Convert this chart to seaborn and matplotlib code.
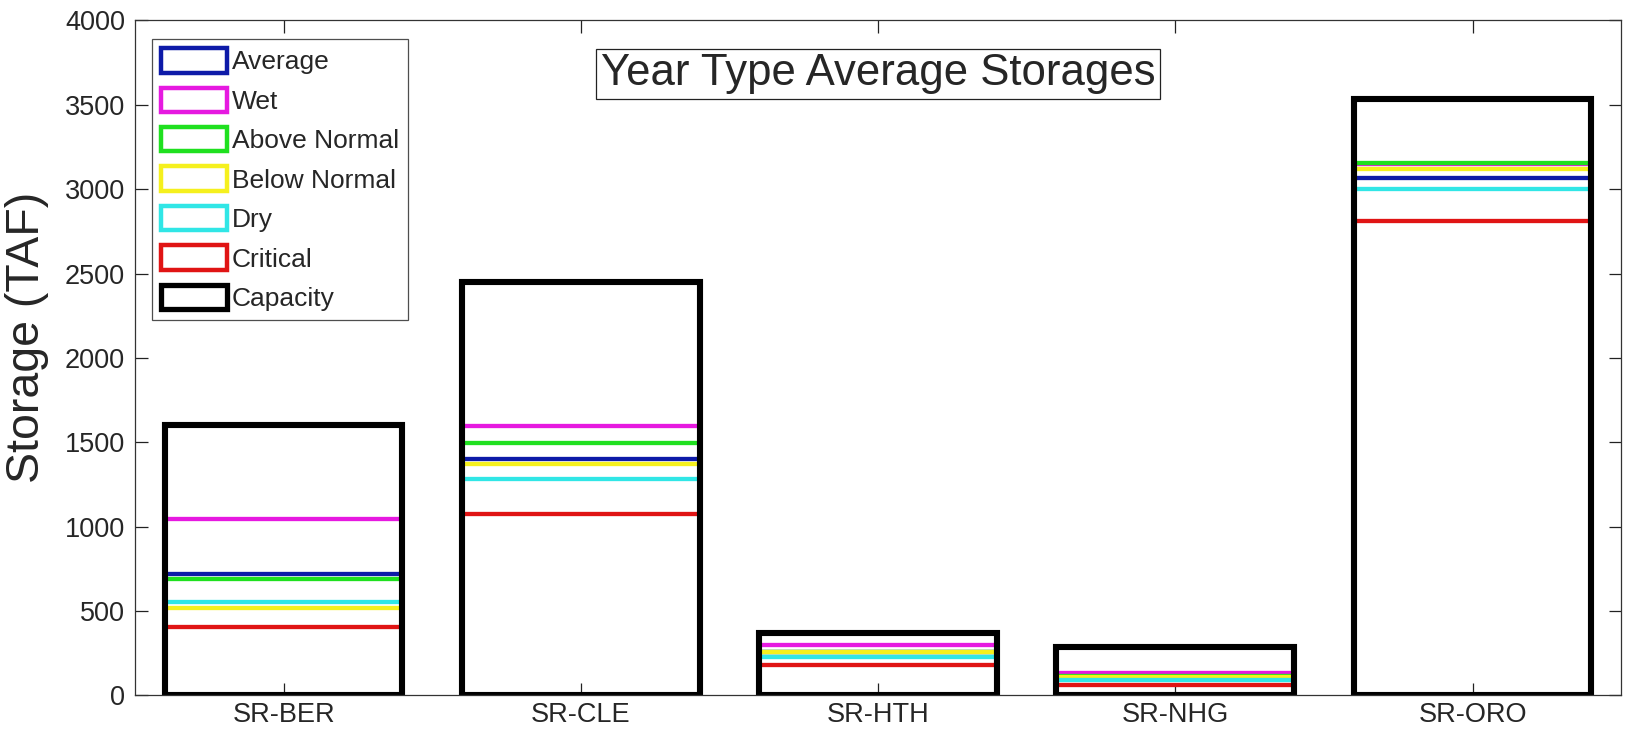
import matplotlib
matplotlib.use("Agg")
import matplotlib.pyplot as plt
from matplotlib.patches import Patch
import seaborn as sns
import pandas as pd

# Reservoirs and year-type average storages (TAF)
reservoirs = ["SR-BER", "SR-CLE", "SR-HTH", "SR-NHG", "SR-ORO"]
average = [719, 1403, 255, 100, 3066]
wet = [1044, 1595, 297, 136, 3150]
above_normal = [693, 1494, 258, 115, 3153]
below_normal = [516, 1370, 256, 110, 3119]
dry = [555, 1285, 228, 92, 3001]
critical = [403, 1078, 179, 62, 2814]
capacity = [1604, 2448, 372, 290, 3536]

series_names = ["Average", "Wet", "Above Normal", "Below Normal", "Dry", "Critical", "Capacity"]
series_values = [average, wet, above_normal, below_normal, dry, critical, capacity]
series_colors = ["#0d1aa8", "#e619e0", "#1fe01f", "#f5f01e", "#30e6e6", "#e01414", "#000000"]

sns.set_theme(style="white")
plt.rcParams["font.family"] = ["Liberation Sans", "DejaVu Sans"]

fig = plt.figure(figsize=(16.26, 7.29), dpi=100)
ax = fig.add_axes([0.083, 0.046, 0.914, 0.926])

for name, vals, col in zip(series_names, series_values, series_colors):
    df = pd.DataFrame({"reservoir": reservoirs, "storage": vals})
    lw = 4.4 if name == "Capacity" else 3.1
    n_before = len(ax.patches)
    sns.barplot(data=df, x="reservoir", y="storage", fill=False, width=0.8,
                color=col, edgecolor=col, linewidth=lw, errorbar=None, ax=ax)
    for p in ax.patches[n_before:]:
        p.set_edgecolor(col)
        p.set_facecolor("none")
        p.set_linewidth(lw)
        p.set_joinstyle("miter")

ax.set_xlim(-0.5, 4.5)
ax.set_ylim(0, 4000)
ax.set_yticks(range(0, 4001, 500))
ax.set_xlabel("")
ax.set_ylabel("Storage (TAF)", fontsize=33.5)
ax.yaxis.set_label_coords(-0.058, 0.53)

ax.tick_params(axis="both", which="both", direction="in", length=9, width=0.9,
               color="#222222", top=True, right=True, bottom=True, left=True)
ax.tick_params(axis="y", labelsize=19.5, pad=7)
ax.tick_params(axis="x", labelsize=19.5, pad=5)
for s in ax.spines.values():
    s.set_visible(True)
    s.set_color("#333333")
    s.set_linewidth(0.9)

ax.text(0.5, 0.9207, "Year Type Average Storages", transform=ax.transAxes,
        ha="center", va="center", fontsize=31.5,
        bbox=dict(boxstyle="square,pad=0.1", facecolor="white", edgecolor="#222222", linewidth=0.9))

handles = [Patch(facecolor="white", edgecolor=c, linewidth=(3.8 if n == "Capacity" else 3.2), label=n)
           for n, c in zip(series_names, series_colors)]
leg = ax.legend(handles=handles, loc="upper left", bbox_to_anchor=(0.0114, 0.9726),
                borderaxespad=0, fontsize=19, frameon=True, fancybox=False,
                handlelength=2.5, handleheight=1.05, handletextpad=0.18,
                labelspacing=0.5, borderpad=0.35)
leg.get_frame().set_edgecolor("#222222")
leg.get_frame().set_linewidth(0.9)

fig.savefig("out.png", dpi=100)
